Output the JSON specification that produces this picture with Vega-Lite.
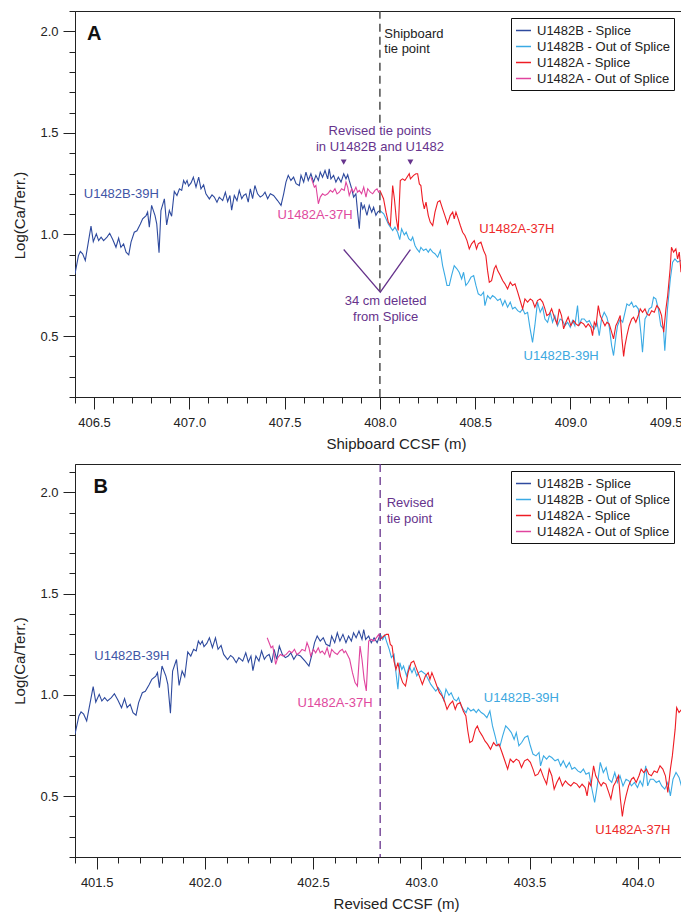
{
"$schema": "https://vega.github.io/schema/vega-lite/v6.json",
"padding": {"left": 12, "top": 9, "right": 1, "bottom": 0},
"autosize": {"type": "pad"},
"background": "white",
"config": {
  "font": "Liberation Sans",
  "view": {"stroke": "#222", "strokeWidth": 1},
  "concat": {"spacing": 10},
  "axis": {"domainColor": "#222", "tickColor": "#222", "labelColor": "#222", "titleColor": "#222", "labelFont": "Liberation Sans", "titleFont": "Liberation Sans", "labelFontSize": 13, "titleFontSize": 15, "titleFontWeight": "normal", "grid": false, "domainWidth": 1, "tickWidth": 1, "labelOverlap": false, "labelFlush": false},
  "legend": {"orient": "top-right", "offset": 7, "title": null, "strokeColor": "#111", "fillColor": "white", "padding": 4, "symbolType": "stroke", "symbolSize": 225, "symbolStrokeWidth": 1.5, "labelFontSize": 13, "labelFont": "Liberation Sans", "labelColor": "#222", "rowPadding": 0, "labelOffset": 5, "labelLimit": 300}
},
"resolve": {"scale": {"x": "independent", "y": "independent", "color": "independent"}},
"datasets": {
"hB": [
{"a":406.400,"b":401.400,"v":0.806},{"a":406.418,"b":401.418,"v":0.896},{"a":406.428,"b":401.428,"v":0.916},{"a":406.440,"b":401.440,"v":0.905},{"a":406.454,"b":401.454,"v":0.872},{"a":406.470,"b":401.470,"v":0.962},{"a":406.484,"b":401.484,"v":1.041},{"a":406.496,"b":401.496,"v":0.965},{"a":406.512,"b":401.512,"v":1.003},{"a":406.524,"b":401.524,"v":0.970},{"a":406.537,"b":401.537,"v":0.987},{"a":406.550,"b":401.550,"v":0.970},{"a":406.568,"b":401.568,"v":0.987},{"a":406.582,"b":401.582,"v":1.006},{"a":406.598,"b":401.598,"v":0.975},{"a":406.615,"b":401.615,"v":0.937},{"a":406.629,"b":401.629,"v":0.982},{"a":406.641,"b":401.641,"v":0.937},{"a":406.655,"b":401.655,"v":0.954},{"a":406.668,"b":401.668,"v":0.913},{"a":406.682,"b":401.682,"v":0.900},{"a":406.694,"b":401.694,"v":0.962},{"a":406.711,"b":401.711,"v":1.011},{"a":406.725,"b":401.725,"v":1.018},{"a":406.743,"b":401.743,"v":1.052},{"a":406.755,"b":401.755,"v":1.077},{"a":406.773,"b":401.773,"v":1.093},{"a":406.781,"b":401.781,"v":1.110},{"a":406.790,"b":401.790,"v":1.036},{"a":406.802,"b":401.802,"v":1.143},{"a":406.820,"b":401.820,"v":1.093},{"a":406.829,"b":401.829,"v":1.052},{"a":406.841,"b":401.841,"v":0.910},{"a":406.851,"b":401.851,"v":1.118},{"a":406.869,"b":401.869,"v":1.175},{"a":406.881,"b":401.881,"v":1.047},{"a":406.895,"b":401.895,"v":1.118},{"a":406.907,"b":401.907,"v":1.090},{"a":406.921,"b":401.921,"v":1.212},{"a":406.935,"b":401.935,"v":1.192},{"a":406.948,"b":401.948,"v":1.225},{"a":406.960,"b":401.960,"v":1.217},{"a":406.970,"b":401.970,"v":1.266},{"a":406.979,"b":401.979,"v":1.249},{"a":406.988,"b":401.988,"v":1.266},{"a":406.996,"b":401.996,"v":1.238},{"a":407.009,"b":402.009,"v":1.254},{"a":407.021,"b":402.021,"v":1.282},{"a":407.035,"b":402.035,"v":1.233},{"a":407.049,"b":402.049,"v":1.282},{"a":407.061,"b":402.061,"v":1.225},{"a":407.075,"b":402.075,"v":1.244},{"a":407.087,"b":402.087,"v":1.200},{"a":407.105,"b":402.105,"v":1.175},{"a":407.119,"b":402.119,"v":1.195},{"a":407.131,"b":402.131,"v":1.184},{"a":407.145,"b":402.145,"v":1.159},{"a":407.157,"b":402.157,"v":1.184},{"a":407.175,"b":402.175,"v":1.167},{"a":407.189,"b":402.189,"v":1.208},{"a":407.201,"b":402.201,"v":1.162},{"a":407.213,"b":402.213,"v":1.192},{"a":407.222,"b":402.222,"v":1.120},{"a":407.236,"b":402.236,"v":1.192},{"a":407.250,"b":402.250,"v":1.167},{"a":407.262,"b":402.262,"v":1.217},{"a":407.275,"b":402.275,"v":1.176},{"a":407.285,"b":402.285,"v":1.192},{"a":407.297,"b":402.297,"v":1.200},{"a":407.309,"b":402.309,"v":1.159},{"a":407.320,"b":402.320,"v":1.225},{"a":407.332,"b":402.332,"v":1.176},{"a":407.344,"b":402.344,"v":1.241},{"a":407.358,"b":402.358,"v":1.200},{"a":407.372,"b":402.372,"v":1.184},{"a":407.385,"b":402.385,"v":1.192},{"a":407.397,"b":402.397,"v":1.208},{"a":407.411,"b":402.411,"v":1.176},{"a":407.425,"b":402.425,"v":1.200},{"a":407.442,"b":402.442,"v":1.192},{"a":407.463,"b":402.463,"v":1.167},{"a":407.481,"b":402.481,"v":1.143},{"a":407.495,"b":402.495,"v":1.200},{"a":407.507,"b":402.507,"v":1.258},{"a":407.519,"b":402.519,"v":1.291},{"a":407.533,"b":402.533,"v":1.266},{"a":407.547,"b":402.547,"v":1.282},{"a":407.560,"b":402.560,"v":1.250},{"a":407.577,"b":402.577,"v":1.241},{"a":407.586,"b":402.586,"v":1.291},{"a":407.600,"b":402.600,"v":1.258},{"a":407.612,"b":402.612,"v":1.307},{"a":407.624,"b":402.624,"v":1.266},{"a":407.638,"b":402.638,"v":1.299},{"a":407.652,"b":402.652,"v":1.258},{"a":407.664,"b":402.664,"v":1.291},{"a":407.677,"b":402.677,"v":1.266},{"a":407.687,"b":402.687,"v":1.307},{"a":407.699,"b":402.699,"v":1.282},{"a":407.712,"b":402.712,"v":1.315},{"a":407.726,"b":402.726,"v":1.274},{"a":407.734,"b":402.734,"v":1.323},{"a":407.743,"b":402.743,"v":1.274},{"a":407.757,"b":402.757,"v":1.291},{"a":407.769,"b":402.769,"v":1.258},{"a":407.782,"b":402.782,"v":1.282},{"a":407.796,"b":402.796,"v":1.258},{"a":407.81,"b":402.81,"v":1.299},{"a":407.822,"b":402.822,"v":1.274},{"a":407.831,"b":402.831,"v":1.294},{"a":407.839,"b":402.839,"v":1.266},{"a":407.852,"b":402.852,"v":1.225},{"a":407.862,"b":402.862,"v":1.184},{"a":407.874,"b":402.874,"v":1.200},{"a":407.883,"b":402.883,"v":1.110},{"a":407.892,"b":402.892,"v":1.028},{"a":407.901,"b":402.901,"v":1.159},{"a":407.910,"b":402.910,"v":1.126},{"a":407.918,"b":402.918,"v":1.143},{"a":407.932,"b":402.932,"v":1.094},{"a":407.944,"b":402.944,"v":1.143},{"a":407.957,"b":402.957,"v":1.110},{"a":407.967,"b":402.967,"v":1.134},{"a":407.979,"b":402.979,"v":1.094},{"a":407.988,"b":402.988,"v":1.110},{"a":408.0,"b":403.0,"v":1.118},
{"a":408.020,"b":403.020,"v":1.102},{"a":408.032,"b":403.032,"v":1.077},{"a":408.044,"b":403.044,"v":1.052},{"a":408.055,"b":403.055,"v":1.036},{"a":408.067,"b":403.067,"v":1.019},{"a":408.079,"b":403.079,"v":1.036},{"a":408.093,"b":403.093,"v":1.011},{"a":408.104,"b":403.104,"v":0.975},{"a":408.114,"b":403.114,"v":1.028},{"a":408.128,"b":403.128,"v":0.998},{"a":408.138,"b":403.138,"v":1.011},{"a":408.151,"b":403.151,"v":0.979},{"a":408.163,"b":403.163,"v":0.970},{"a":408.172,"b":403.172,"v":0.987},{"a":408.184,"b":403.184,"v":0.946},{"a":408.194,"b":403.194,"v":0.929},{"a":408.207,"b":403.207,"v":0.913},{"a":408.215,"b":403.215,"v":0.937},{"a":408.229,"b":403.229,"v":0.921},{"a":408.242,"b":403.242,"v":0.929},{"a":408.254,"b":403.254,"v":0.913},{"a":408.264,"b":403.264,"v":0.929},{"a":408.277,"b":403.277,"v":0.913},{"a":408.289,"b":403.289,"v":0.905},{"a":408.303,"b":403.303,"v":0.888},{"a":408.317,"b":403.317,"v":0.921},{"a":408.329,"b":403.329,"v":0.847},{"a":408.341,"b":403.341,"v":0.798},{"a":408.352,"b":403.352,"v":0.749},{"a":408.364,"b":403.364,"v":0.749},{"a":408.376,"b":403.376,"v":0.798},{"a":408.390,"b":403.390,"v":0.847},{"a":408.404,"b":403.404,"v":0.831},{"a":408.416,"b":403.416,"v":0.814},{"a":408.429,"b":403.429,"v":0.781},{"a":408.439,"b":403.439,"v":0.814},{"a":408.451,"b":403.451,"v":0.749},{"a":408.464,"b":403.464,"v":0.765},{"a":408.478,"b":403.478,"v":0.790},{"a":408.492,"b":403.492,"v":0.798},{"a":408.504,"b":403.504,"v":0.749},{"a":408.516,"b":403.516,"v":0.708},{"a":408.530,"b":403.530,"v":0.699},{"a":408.544,"b":403.544,"v":0.716},{"a":408.551,"b":403.551,"v":0.650},{"a":408.565,"b":403.565,"v":0.699},{"a":408.579,"b":403.579,"v":0.683},{"a":408.591,"b":403.591,"v":0.699},{"a":408.603,"b":403.603,"v":0.691},{"a":408.618,"b":403.618,"v":0.675},{"a":408.632,"b":403.632,"v":0.683},{"a":408.644,"b":403.644,"v":0.650},{"a":408.656,"b":403.656,"v":0.675},{"a":408.670,"b":403.670,"v":0.642},{"a":408.684,"b":403.684,"v":0.667},{"a":408.696,"b":403.696,"v":0.634},{"a":408.709,"b":403.709,"v":0.642},{"a":408.723,"b":403.723,"v":0.625},{"a":408.736,"b":403.736,"v":0.617},{"a":408.749,"b":403.749,"v":0.634},{"a":408.761,"b":403.761,"v":0.609},{"a":408.775,"b":403.775,"v":0.617},{"a":408.787,"b":403.787,"v":0.543},{"a":408.801,"b":403.801,"v":0.469},{"a":408.813,"b":403.813,"v":0.551},{"a":408.827,"b":403.827,"v":0.667},{"a":408.841,"b":403.841,"v":0.617},{"a":408.854,"b":403.854,"v":0.642},{"a":408.866,"b":403.866,"v":0.584},{"a":408.880,"b":403.880,"v":0.568},{"a":408.894,"b":403.894,"v":0.617},{"a":408.906,"b":403.906,"v":0.568},{"a":408.918,"b":403.918,"v":0.601},{"a":408.932,"b":403.932,"v":0.551},{"a":408.946,"b":403.946,"v":0.584},{"a":408.959,"b":403.959,"v":0.576},{"a":408.971,"b":403.971,"v":0.551},{"a":408.985,"b":403.985,"v":0.568},{"a":408.999,"b":403.999,"v":0.543},{"a":409.011,"b":404.011,"v":0.576},{"a":409.023,"b":404.023,"v":0.551},{"a":409.037,"b":404.037,"v":0.650},{"a":409.046,"b":404.046,"v":0.551},{"a":409.058,"b":404.058,"v":0.584},{"a":409.072,"b":404.072,"v":0.584},{"a":409.086,"b":404.086,"v":0.568},{"a":409.099,"b":404.099,"v":0.576},{"a":409.111,"b":404.111,"v":0.551},{"a":409.125,"b":404.125,"v":0.535},{"a":409.139,"b":404.139,"v":0.568},{"a":409.151,"b":404.151,"v":0.502},{"a":409.163,"b":404.163,"v":0.584},{"a":409.177,"b":404.177,"v":0.617},{"a":409.191,"b":404.191,"v":0.593},{"a":409.204,"b":404.204,"v":0.543},{"a":409.216,"b":404.216,"v":0.453},{"a":409.226,"b":404.226,"v":0.404},{"a":409.239,"b":404.239,"v":0.502},{"a":409.247,"b":404.247,"v":0.551},{"a":409.261,"b":404.261,"v":0.584},{"a":409.274,"b":404.274,"v":0.568},{"a":409.286,"b":404.286,"v":0.617},{"a":409.296,"b":404.296,"v":0.658},{"a":409.308,"b":404.308,"v":0.650},{"a":409.321,"b":404.321,"v":0.667},{"a":409.331,"b":404.331,"v":0.642},{"a":409.343,"b":404.343,"v":0.650},{"a":409.356,"b":404.356,"v":0.634},{"a":409.370,"b":404.370,"v":0.510},{"a":409.378,"b":404.378,"v":0.420},{"a":409.391,"b":404.391,"v":0.584},{"a":409.401,"b":404.401,"v":0.601},{"a":409.413,"b":404.413,"v":0.634},{"a":409.426,"b":404.426,"v":0.642},{"a":409.436,"b":404.436,"v":0.691},{"a":409.448,"b":404.448,"v":0.683},{"a":409.461,"b":404.461,"v":0.634},{"a":409.474,"b":404.474,"v":0.551},{"a":409.488,"b":404.488,"v":0.535},{"a":409.495,"b":404.495,"v":0.428},{"a":409.509,"b":404.509,"v":0.634},{"a":409.524,"b":404.524,"v":0.781},{"a":409.536,"b":404.536,"v":0.864},{"a":409.548,"b":404.548,"v":0.880},{"a":409.562,"b":404.562,"v":0.864},{"a":409.580,"b":404.580,"v":0.872}
],
"hA": [
{"a":407.638,"b":402.288,"v":1.282},{"a":407.647,"b":402.297,"v":1.258},{"a":407.656,"b":402.306,"v":1.233},{"a":407.664,"b":402.314,"v":1.241},{"a":407.677,"b":402.327,"v":1.151},{"a":407.687,"b":402.337,"v":1.184},{"a":407.699,"b":402.349,"v":1.200},{"a":407.712,"b":402.362,"v":1.192},{"a":407.726,"b":402.376,"v":1.200},{"a":407.740,"b":402.390,"v":1.217},{"a":407.752,"b":402.402,"v":1.208},{"a":407.764,"b":402.414,"v":1.225},{"a":407.775,"b":402.425,"v":1.200},{"a":407.787,"b":402.437,"v":1.208},{"a":407.799,"b":402.449,"v":1.225},{"a":407.813,"b":402.463,"v":1.217},{"a":407.822,"b":402.472,"v":1.258},{"a":407.831,"b":402.481,"v":1.233},{"a":407.839,"b":402.489,"v":1.192},{"a":407.852,"b":402.502,"v":1.225},{"a":407.862,"b":402.512,"v":1.208},{"a":407.874,"b":402.524,"v":1.233},{"a":407.883,"b":402.533,"v":1.208},{"a":407.892,"b":402.542,"v":1.217},{"a":407.904,"b":402.554,"v":1.200},{"a":407.915,"b":402.565,"v":1.233},{"a":407.927,"b":402.577,"v":1.184},{"a":407.936,"b":402.586,"v":1.225},{"a":407.950,"b":402.600,"v":1.208},{"a":407.962,"b":402.612,"v":1.200},{"a":407.974,"b":402.624,"v":1.217},{"a":407.985,"b":402.635,"v":1.225},{"a":407.993,"b":402.643,"v":1.208},{"a":408.0,"b":402.650,"v":1.217},
{"a":408.019,"b":402.669,"v":1.176},{"a":408.032,"b":402.682,"v":1.110},{"a":408.044,"b":402.694,"v":1.061},{"a":408.055,"b":402.705,"v":1.044},{"a":408.067,"b":402.717,"v":1.241},{"a":408.076,"b":402.726,"v":1.176},{"a":408.086,"b":402.736,"v":1.077},{"a":408.096,"b":402.746,"v":1.020},{"a":408.107,"b":402.757,"v":1.266},{"a":408.119,"b":402.769,"v":1.274},{"a":408.131,"b":402.781,"v":1.266},{"a":408.142,"b":402.792,"v":1.282},{"a":408.154,"b":402.804,"v":1.299},{"a":408.16,"b":402.81,"v":1.274},{"a":408.177,"b":402.827,"v":1.291},{"a":408.189,"b":402.839,"v":1.299},{"a":408.198,"b":402.848,"v":1.299},{"a":408.207,"b":402.857,"v":1.249},{"a":408.215,"b":402.865,"v":1.241},{"a":408.224,"b":402.874,"v":1.167},{"a":408.233,"b":402.883,"v":1.126},{"a":408.242,"b":402.892,"v":1.159},{"a":408.254,"b":402.904,"v":1.093},{"a":408.264,"b":402.914,"v":1.061},{"a":408.277,"b":402.927,"v":1.044},{"a":408.289,"b":402.939,"v":1.110},{"a":408.303,"b":402.953,"v":1.159},{"a":408.315,"b":402.965,"v":1.167},{"a":408.329,"b":402.979,"v":1.126},{"a":408.341,"b":402.991,"v":1.093},{"a":408.355,"b":403.005,"v":1.052},{"a":408.369,"b":403.019,"v":1.093},{"a":408.382,"b":403.032,"v":1.110},{"a":408.390,"b":403.040,"v":1.077},{"a":408.399,"b":403.049,"v":1.110},{"a":408.411,"b":403.061,"v":1.077},{"a":408.422,"b":403.072,"v":1.044},{"a":408.434,"b":403.084,"v":1.011},{"a":408.446,"b":403.096,"v":0.995},{"a":408.457,"b":403.107,"v":0.970},{"a":408.469,"b":403.119,"v":0.929},{"a":408.481,"b":403.131,"v":0.954},{"a":408.495,"b":403.145,"v":0.970},{"a":408.507,"b":403.157,"v":0.929},{"a":408.516,"b":403.166,"v":0.954},{"a":408.530,"b":403.180,"v":0.962},{"a":408.544,"b":403.194,"v":0.921},{"a":408.556,"b":403.206,"v":0.896},{"a":408.565,"b":403.215,"v":0.822},{"a":408.574,"b":403.224,"v":0.765},{"a":408.586,"b":403.236,"v":0.773},{"a":408.600,"b":403.250,"v":0.831},{"a":408.609,"b":403.259,"v":0.847},{"a":408.618,"b":403.268,"v":0.822},{"a":408.632,"b":403.282,"v":0.798},{"a":408.644,"b":403.294,"v":0.773},{"a":408.656,"b":403.306,"v":0.757},{"a":408.670,"b":403.320,"v":0.732},{"a":408.684,"b":403.334,"v":0.765},{"a":408.696,"b":403.346,"v":0.749},{"a":408.709,"b":403.359,"v":0.757},{"a":408.723,"b":403.373,"v":0.716},{"a":408.736,"b":403.386,"v":0.675},{"a":408.749,"b":403.399,"v":0.634},{"a":408.761,"b":403.411,"v":0.683},{"a":408.775,"b":403.425,"v":0.667},{"a":408.789,"b":403.439,"v":0.683},{"a":408.801,"b":403.451,"v":0.675},{"a":408.813,"b":403.463,"v":0.642},{"a":408.827,"b":403.477,"v":0.675},{"a":408.841,"b":403.491,"v":0.683},{"a":408.854,"b":403.504,"v":0.667},{"a":408.866,"b":403.516,"v":0.634},{"a":408.876,"b":403.526,"v":0.601},{"a":408.889,"b":403.539,"v":0.609},{"a":408.901,"b":403.551,"v":0.634},{"a":408.915,"b":403.565,"v":0.593},{"a":408.929,"b":403.579,"v":0.560},{"a":408.941,"b":403.591,"v":0.634},{"a":408.953,"b":403.603,"v":0.601},{"a":408.964,"b":403.614,"v":0.535},{"a":408.976,"b":403.626,"v":0.568},{"a":408.988,"b":403.638,"v":0.593},{"a":409.002,"b":403.652,"v":0.551},{"a":409.016,"b":403.666,"v":0.576},{"a":409.029,"b":403.679,"v":0.560},{"a":409.041,"b":403.691,"v":0.551},{"a":409.055,"b":403.705,"v":0.568},{"a":409.069,"b":403.719,"v":0.560},{"a":409.081,"b":403.731,"v":0.543},{"a":409.093,"b":403.743,"v":0.560},{"a":409.107,"b":403.757,"v":0.543},{"a":409.116,"b":403.766,"v":0.502},{"a":409.125,"b":403.775,"v":0.568},{"a":409.134,"b":403.784,"v":0.551},{"a":409.146,"b":403.796,"v":0.650},{"a":409.156,"b":403.806,"v":0.601},{"a":409.168,"b":403.818,"v":0.576},{"a":409.181,"b":403.831,"v":0.551},{"a":409.191,"b":403.841,"v":0.568},{"a":409.203,"b":403.853,"v":0.560},{"a":409.216,"b":403.866,"v":0.519},{"a":409.226,"b":403.876,"v":0.486},{"a":409.238,"b":403.888,"v":0.551},{"a":409.247,"b":403.897,"v":0.568},{"a":409.261,"b":403.911,"v":0.601},{"a":409.270,"b":403.920,"v":0.486},{"a":409.279,"b":403.929,"v":0.400},{"a":409.286,"b":403.936,"v":0.453},{"a":409.296,"b":403.946,"v":0.502},{"a":409.308,"b":403.958,"v":0.551},{"a":409.321,"b":403.971,"v":0.584},{"a":409.331,"b":403.981,"v":0.593},{"a":409.343,"b":403.993,"v":0.568},{"a":409.356,"b":404.006,"v":0.601},{"a":409.366,"b":404.016,"v":0.634},{"a":409.378,"b":404.028,"v":0.617},{"a":409.391,"b":404.041,"v":0.634},{"a":409.401,"b":404.051,"v":0.609},{"a":409.413,"b":404.063,"v":0.601},{"a":409.426,"b":404.076,"v":0.625},{"a":409.440,"b":404.090,"v":0.617},{"a":409.453,"b":404.103,"v":0.650},{"a":409.466,"b":404.116,"v":0.634},{"a":409.478,"b":404.128,"v":0.601},{"a":409.489,"b":404.139,"v":0.519},{"a":409.501,"b":404.151,"v":0.634},{"a":409.510,"b":404.160,"v":0.699},{"a":409.523,"b":404.173,"v":0.831},{"a":409.530,"b":404.180,"v":0.937},{"a":409.541,"b":404.191,"v":0.913},{"a":409.553,"b":404.203,"v":0.929},{"a":409.562,"b":404.212,"v":0.880},{"a":409.571,"b":404.221,"v":0.913},{"a":409.580,"b":404.230,"v":0.814}
]
},
"vconcat": [
{
 "width": 606, "height": 386,
 "resolve": {"axis": {"x": "independent", "y": "independent"}},
 "layer": [
  {"data": {"name": "hB"}, "transform": [{"filter": "datum.a <= 408.0"}],
   "mark": {"type": "line", "strokeWidth": 1.1, "clip": true},
   "encoding": {
    "x": {"field": "a", "type": "quantitative", "scale": {"domain": [406.4, 409.58], "nice": false, "zero": false},
          "axis": {"orient": "bottom", "values": [406.5, 407, 407.5, 408, 408.5, 409, 409.5], "format": ".1f", "tickSize": 12, "labelPadding": 7, "title": "Shipboard CCSF (m)", "titlePadding": 7, "titleX": 321}},
    "y": {"field": "v", "type": "quantitative", "scale": {"domain": [0.2, 2.1], "nice": false, "zero": false},
          "axis": {"orient": "left", "values": [0.5, 1, 1.5, 2], "format": ".1f", "tickSize": 12, "labelPadding": 5, "title": "Log(Ca/Terr.)", "titlePadding": 12, "titleY": 204}},
    "color": {"datum": "U1482B - Splice", "type": "nominal",
              "scale": {"domain": ["U1482B - Splice", "U1482B - Out of Splice", "U1482A - Splice", "U1482A - Out of Splice"], "range": ["#2E4A9E", "#3AAAE4", "#EE1C24", "#E0449E"]},
              "legend": {"orient": "top-right", "offset": 7}}
   }},
  {"data": {"name": "hB"}, "transform": [{"filter": "datum.a >= 408.0"}],
   "mark": {"type": "line", "strokeWidth": 1.1, "clip": true},
   "encoding": {
    "x": {"field": "a", "type": "quantitative", "axis": {"orient": "bottom", "values": [406.4,406.5,406.6,406.7,406.8,406.9,407.0,407.1,407.2,407.3,407.4,407.5,407.6,407.7,407.8,407.9,408.0,408.1,408.2,408.3,408.4,408.5,408.6,408.7,408.8,408.9,409.0,409.1,409.2,409.3,409.4,409.5], "tickSize": 6, "labels": false, "domain": false, "title": null}},
    "y": {"field": "v", "type": "quantitative", "axis": {"orient": "left", "values": [0.2,0.3,0.4,0.5,0.6,0.7,0.8,0.9,1.0,1.1,1.2,1.3,1.4,1.5,1.6,1.7,1.8,1.9,2.0,2.1], "tickSize": 6, "labels": false, "domain": false, "title": null}},
    "color": {"datum": "U1482B - Out of Splice", "type": "nominal"}
   }},
  {"data": {"name": "hA"}, "transform": [{"filter": "datum.a >= 408.0"}],
   "mark": {"type": "line", "strokeWidth": 1.1, "clip": true},
   "encoding": {
    "x": {"field": "a", "type": "quantitative", "axis": null},
    "y": {"field": "v", "type": "quantitative", "axis": null},
    "color": {"datum": "U1482A - Splice", "type": "nominal"}
   }},
  {"data": {"name": "hA"}, "transform": [{"filter": "datum.a <= 408.0"}],
   "mark": {"type": "line", "strokeWidth": 1.1, "clip": true},
   "encoding": {
    "x": {"field": "a", "type": "quantitative", "axis": null},
    "y": {"field": "v", "type": "quantitative", "axis": null},
    "color": {"datum": "U1482A - Out of Splice", "type": "nominal"}
   }},
  {"data": {"values": [{"x": 408.0, "y": 0.2, "y2": 0.555}, {"x": 408.0, "y": 0.72, "y2": 1.39}, {"x": 408.0, "y": 1.55, "y2": 2.1}]},
   "mark": {"type": "rule", "color": "#4D4D4D", "strokeWidth": 1.5, "strokeDash": [8, 5]},
   "encoding": {"x": {"field": "x", "type": "quantitative", "axis": null}, "y": {"field": "y", "type": "quantitative", "axis": null}, "y2": {"field": "y2"}}},
  {"data": {"values": [{"x": 407.81, "y": 0.926}, {"x": 408.002, "y": 0.716}, {"x": 408.16, "y": 0.926}]},
   "mark": {"type": "line", "color": "#66338C", "strokeWidth": 1.3},
   "encoding": {"x": {"field": "x", "type": "quantitative", "axis": null}, "y": {"field": "y", "type": "quantitative", "axis": null}}},
  {"data": {"values": [{"x": 407.81, "y": 1.356}, {"x": 408.16, "y": 1.356}]},
   "mark": {"type": "point", "shape": "triangle-down", "filled": true, "size": 35, "color": "#66338C", "opacity": 1},
   "encoding": {"x": {"field": "x", "type": "quantitative", "axis": null}, "y": {"field": "y", "type": "quantitative", "axis": null}}},
  {"data": {"values": [
     {"t": "Shipboard", "x": 408.023, "y": 1.988, "g": "tie"},
     {"t": "tie point", "x": 408.023, "y": 1.911, "g": "tie"},
     {"t": "U1482B-39H", "x": 406.446, "y": 1.200, "g": "Bs"},
     {"t": "U1482A-37H", "x": 407.463, "y": 1.094, "g": "Ao"},
     {"t": "U1482A-37H", "x": 408.521, "y": 1.028, "g": "As"},
     {"t": "U1482B-39H", "x": 408.754, "y": 0.404, "g": "Bo"}]},
   "mark": {"type": "text", "align": "left", "baseline": "middle", "fontSize": 13, "font": "Liberation Sans"},
   "encoding": {"x": {"field": "x", "type": "quantitative", "axis": null}, "y": {"field": "y", "type": "quantitative", "axis": null}, "text": {"field": "t"},
     "fill": {"field": "g", "type": "nominal", "legend": null, "scale": {"domain": ["Bs", "Bo", "As", "Ao", "tie", "rev"], "range": ["#3F55A6", "#3DA8E0", "#EE2A2A", "#E04A9E", "#222222", "#66338C"]}}}},
  {"data": {"values": [
     {"t": "Revised tie points", "x": 408.0, "y": 1.507},
     {"t": "in U1482B and U1482", "x": 408.0, "y": 1.429},
     {"t": "34 cm deleted", "x": 408.03, "y": 0.675},
     {"t": "from Splice", "x": 408.03, "y": 0.596}]},
   "mark": {"type": "text", "align": "center", "baseline": "middle", "fontSize": 13, "font": "Liberation Sans", "color": "#66338C"},
   "encoding": {"x": {"field": "x", "type": "quantitative", "axis": null}, "y": {"field": "y", "type": "quantitative", "axis": null}, "text": {"field": "t"}}},
  {"data": {"values": [{"t": "A", "x": 406.463, "y": 1.956}]},
   "mark": {"type": "text", "align": "left", "baseline": "alphabetic", "fontSize": 20, "fontWeight": "bold", "font": "Liberation Sans", "color": "#111"},
   "encoding": {"x": {"field": "x", "type": "quantitative", "axis": null}, "y": {"field": "y", "type": "quantitative", "axis": null}, "text": {"field": "t"}}}
 ]
},
{
 "width": 606, "height": 393,
 "resolve": {"axis": {"x": "independent", "y": "independent"}},
 "layer": [
  {"data": {"name": "hB"}, "transform": [{"filter": "datum.b <= 402.81"}],
   "mark": {"type": "line", "strokeWidth": 1.1, "clip": true},
   "encoding": {
    "x": {"field": "b", "type": "quantitative", "scale": {"domain": [401.4, 404.2], "nice": false, "zero": false},
          "axis": {"orient": "bottom", "values": [401.5, 402, 402.5, 403, 403.5, 404], "format": ".1f", "tickSize": 12, "labelPadding": 7, "title": "Revised CCSF (m)", "titlePadding": 7, "titleX": 321}},
    "y": {"field": "v", "type": "quantitative", "scale": {"domain": [0.2, 2.14], "nice": false, "zero": false},
          "axis": {"orient": "left", "values": [0.5, 1, 1.5, 2], "format": ".1f", "tickSize": 12, "labelPadding": 5, "title": "Log(Ca/Terr.)", "titlePadding": 12}},
    "color": {"datum": "U1482B - Splice", "type": "nominal",
              "scale": {"domain": ["U1482B - Splice", "U1482B - Out of Splice", "U1482A - Splice", "U1482A - Out of Splice"], "range": ["#2E4A9E", "#3AAAE4", "#EE1C24", "#E0449E"]},
              "legend": {"orient": "top-right", "offset": 7}}
   }},
  {"data": {"name": "hB"}, "transform": [{"filter": "datum.b >= 402.81"}],
   "mark": {"type": "line", "strokeWidth": 1.1, "clip": true},
   "encoding": {
    "x": {"field": "b", "type": "quantitative", "axis": {"orient": "bottom", "values": [401.4,401.5,401.6,401.7,401.8,401.9,402.0,402.1,402.2,402.3,402.4,402.5,402.6,402.7,402.8,402.9,403.0,403.1,403.2,403.3,403.4,403.5,403.6,403.7,403.8,403.9,404.0,404.1,404.2], "tickSize": 6, "labels": false, "domain": false, "title": null}},
    "y": {"field": "v", "type": "quantitative", "axis": {"orient": "left", "values": [0.2,0.3,0.4,0.5,0.6,0.7,0.8,0.9,1.0,1.1,1.2,1.3,1.4,1.5,1.6,1.7,1.8,1.9,2.0,2.1], "tickSize": 6, "labels": false, "domain": false, "title": null}},
    "color": {"datum": "U1482B - Out of Splice", "type": "nominal"}
   }},
  {"data": {"name": "hA"}, "transform": [{"filter": "datum.b >= 402.81"}],
   "mark": {"type": "line", "strokeWidth": 1.1, "clip": true},
   "encoding": {
    "x": {"field": "b", "type": "quantitative", "axis": null},
    "y": {"field": "v", "type": "quantitative", "axis": null},
    "color": {"datum": "U1482A - Splice", "type": "nominal"}
   }},
  {"data": {"name": "hA"}, "transform": [{"filter": "datum.b <= 402.81"}],
   "mark": {"type": "line", "strokeWidth": 1.1, "clip": true},
   "encoding": {
    "x": {"field": "b", "type": "quantitative", "axis": null},
    "y": {"field": "v", "type": "quantitative", "axis": null},
    "color": {"datum": "U1482A - Out of Splice", "type": "nominal"}
   }},
  {"data": {"values": [{"x": 402.81}]},
   "mark": {"type": "rule", "color": "#66338C", "strokeWidth": 1.3, "strokeDash": [8, 5]},
   "encoding": {"x": {"field": "x", "type": "quantitative", "axis": null}}},
  {"data": {"values": [
     {"t": "Revised", "x": 402.84, "y": 1.946, "g": "rev"},
     {"t": "tie point", "x": 402.84, "y": 1.867, "g": "rev"},
     {"t": "U1482B-39H", "x": 401.489, "y": 1.19, "g": "Bs"},
     {"t": "U1482A-37H", "x": 402.428, "y": 0.96, "g": "Ao"},
     {"t": "U1482B-39H", "x": 403.289, "y": 0.985, "g": "Bo"},
     {"t": "U1482A-37H", "x": 403.804, "y": 0.332, "g": "As"}]},
   "mark": {"type": "text", "align": "left", "baseline": "middle", "fontSize": 13, "font": "Liberation Sans"},
   "encoding": {"x": {"field": "x", "type": "quantitative", "axis": null}, "y": {"field": "y", "type": "quantitative", "axis": null}, "text": {"field": "t"},
     "fill": {"field": "g", "type": "nominal", "legend": null, "scale": {"domain": ["Bs", "Bo", "As", "Ao", "tie", "rev"], "range": ["#3F55A6", "#3DA8E0", "#EE2A2A", "#E04A9E", "#222222", "#66338C"]}}}},
  {"data": {"values": [{"t": "B", "x": 401.486, "y": 1.995}]},
   "mark": {"type": "text", "align": "left", "baseline": "alphabetic", "fontSize": 20, "fontWeight": "bold", "font": "Liberation Sans", "color": "#111"},
   "encoding": {"x": {"field": "x", "type": "quantitative", "axis": null}, "y": {"field": "y", "type": "quantitative", "axis": null}, "text": {"field": "t"}}}
 ]
}
]
}
